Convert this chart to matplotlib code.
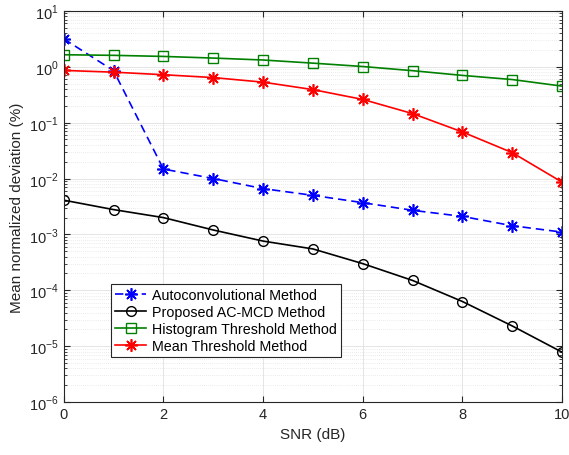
import matplotlib
matplotlib.use("Agg")
import matplotlib.pyplot as plt
from matplotlib.ticker import FixedLocator, NullFormatter
import numpy as np

plt.rcParams['font.family'] = ['Liberation Sans', 'DejaVu Sans']
plt.rcParams['mathtext.fontset'] = 'custom'
plt.rcParams['mathtext.rm'] = 'Liberation Sans'

# data
snr = [0, 1, 2, 3, 4, 5, 6, 7, 8, 9, 10]
autoconv = [3.16, 0.85, 0.0148, 0.010, 0.0066, 0.0050, 0.0037, 0.0027, 0.0021, 0.00143, 0.0011]
acmcd = [0.0041, 0.00278, 0.0020, 0.0012, 0.00076, 0.00055, 0.00030, 0.00015, 6.3e-5, 2.3e-5, 7.8e-6]
histo = [1.64, 1.60, 1.53, 1.43, 1.32, 1.16, 1.01, 0.85, 0.70, 0.59, 0.45]
meanth = [0.86, 0.80, 0.72, 0.64, 0.53, 0.39, 0.26, 0.145, 0.068, 0.029, 0.0086]
decades = [-6, -5, -4, -3, -2, -1, 0, 1]

# matlab style asterisk
star = (8, 2, 0)

fig = plt.figure(figsize=(5.69, 4.56), dpi=100)
ax = fig.add_axes([0.112, 0.116, 0.876, 0.858])

ax.plot(snr, autoconv, color='b', marker=star, linestyle='--', markersize=9,
        markeredgewidth=1.2, linewidth=1.2, dashes=(5, 3), label='Autoconvolutional Method')
ax.plot(snr, acmcd, color='k', marker='o', linestyle='-', markersize=7,
        markerfacecolor='none', linewidth=1.2, label='Proposed AC-MCD Method')
ax.plot(snr, histo, color='#008000', marker='s', linestyle='-', markersize=7,
        markerfacecolor='none', linewidth=1.2, label='Histogram Threshold Method')
ax.plot(snr, meanth, color='r', marker=star, linestyle='-', markersize=9,
        markeredgewidth=1.2, linewidth=1.2, label='Mean Threshold Method')

ax.set_yscale('log')
ax.set_xlim(0, 10)
ax.set_ylim(1e-6, 1e1)
ax.set_xticks([0, 2, 4, 6, 8, 10])
ax.set_yticks([10.0 ** d for d in decades])
ax.set_yticklabels([r'$10^{%d}$' % d for d in decades])
minors = [m * 10.0 ** d for d in decades[:-1] for m in range(2, 10)]
ax.yaxis.set_minor_locator(FixedLocator(minors))
ax.yaxis.set_minor_formatter(NullFormatter())

ax.grid(True, which='major', color='#e0e0e0', linewidth=0.6)
ax.grid(True, which='minor', axis='y', color='#d8d8d8', linestyle=(0, (1, 2)), linewidth=0.5)
ax.set_axisbelow(True)

for s in ax.spines.values():
    s.set_color('#262626')
    s.set_linewidth(0.8)
ax.tick_params(which='both', direction='in', top=True, right=True, colors='#262626',
               labelsize=10.5, labelcolor='#262626')
ax.tick_params(which='major', length=4)
ax.tick_params(which='minor', length=2)

ax.set_xlabel('SNR (dB)', fontsize=11, color='#262626')
ax.set_ylabel('Mean normalized deviation (%)', fontsize=11, color='#262626')

leg = ax.legend(loc='lower left', bbox_to_anchor=(0.094, 0.115), fontsize=10.3,
                frameon=True, fancybox=False, framealpha=1, edgecolor='#262626',
                borderpad=0.3, labelspacing=0.2, handlelength=2.2, handletextpad=0.4,
                borderaxespad=0)
leg.get_frame().set_linewidth(0.8)

fig.savefig('out.png', dpi=100)
